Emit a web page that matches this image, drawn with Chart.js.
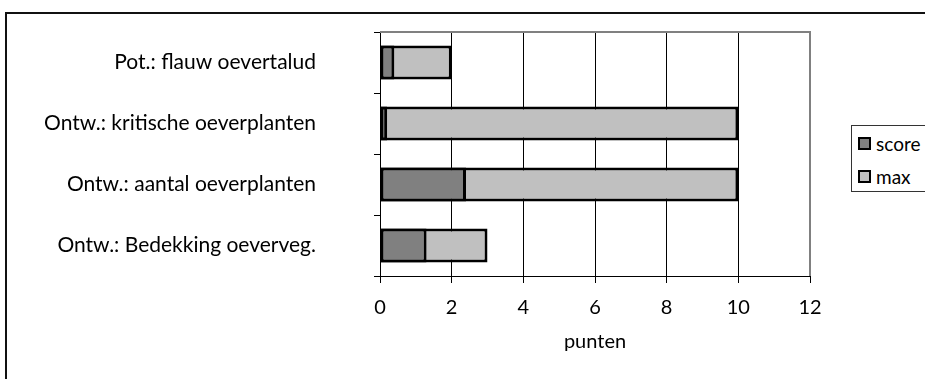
<!DOCTYPE html>
<html>
<head>
<meta charset="utf-8">
<script src="https://cdn.jsdelivr.net/npm/chart.js@4"></script>
<style>
  html, body { margin: 0; padding: 0; background: #fff; }
  #wrap { position: relative; width: 925px; height: 379px; overflow: hidden; }
  #frame { position: absolute; left: 5px; top: 12px; width: 1000px; height: 500px;
           border-left: 2px solid #111; border-top: 2px solid #111; box-sizing: border-box; }
  canvas { position: absolute; left: 0; top: 0; }
  #legend { position: absolute; left: 851px; top: 125px; width: 120px; height: 67px;
            border: 1px solid #333; box-sizing: border-box; background: #fff;
            font-family: Lato, "Open Sans", sans-serif; font-size: 19px; color: #000; }
  .item { position: absolute; left: 6px; height: 20px; display: flex; align-items: center; }
  .sw { width: 13px; height: 13px; border: 2px solid #000; box-sizing: border-box; margin-right: 5px; }
</style>
</head>
<body>
<div id="wrap">
  <div id="frame"></div>
  <canvas id="c" width="925" height="379"></canvas>
  <div id="legend"></div>
</div>
<script>
// Categories (top to bottom) and the two series
const categories = [
  'Pot.: flauw oevertalud',
  'Ontw.: kritische oeverplanten',
  'Ontw.: aantal oeverplanten',
  'Ontw.: Bedekking oeverveg.'
];
const scoreValues = [0.4, 0.2, 2.4, 1.3];
const maxValues = [2, 10, 10, 3];
const xTicks = [0, 2, 4, 6, 8, 10, 12];
const seriesNames = ['score', 'max'];
const seriesColors = ['#808080', '#C0C0C0'];

const FONT = 'Lato, "Open Sans", sans-serif';

// Grey top and right edges of the plot area
const plotEdges = {
  id: 'plotEdges',
  afterDatasetsDraw(chart) {
    const { ctx, chartArea: a } = chart;
    ctx.save();
    ctx.strokeStyle = '#808080';
    ctx.lineWidth = 2;
    ctx.beginPath();
    ctx.moveTo(a.left, a.top);
    ctx.lineTo(a.right, a.top);
    ctx.lineTo(a.right, a.bottom);
    ctx.stroke();
    ctx.restore();
  }
};

const barStyle = { borderColor: '#000', borderWidth: 3, borderSkipped: false,
                   grouped: false, barPercentage: 0.56, categoryPercentage: 1 };

const chart = new Chart(document.getElementById('c'), {
  type: 'bar',
  data: {
    labels: categories,
    datasets: [
      Object.assign({ label: seriesNames[0], data: scoreValues, backgroundColor: seriesColors[0] }, barStyle),
      Object.assign({ label: seriesNames[1], data: maxValues, backgroundColor: seriesColors[1] }, barStyle)
    ]
  },
  options: {
    indexAxis: 'y',
    responsive: false,
    animation: false,
    layout: { padding: { top: 32, right: 115, left: 0, bottom: 21 } },
    plugins: { legend: { display: false }, tooltip: { enabled: false } },
    scales: {
      x: {
        min: 0, max: 12,
        afterBuildTicks(scale) { scale.ticks = xTicks.map(v => ({ value: v })); },
        afterFit(scale) { scale.height = 82; scale.paddingLeft = 0; scale.paddingRight = 0; },
        border: { color: '#000', width: 1 },
        grid: {
          color: c => (c.tick && c.tick.value === 12) ? 'rgba(0,0,0,0)' : '#000',
          tickColor: '#000',
          tickLength: 7,
          lineWidth: 1
        },
        ticks: { color: '#000', font: { family: FONT, size: 20 }, padding: 13, maxRotation: 0 },
        title: { display: true, text: 'punten', color: '#000', font: { family: FONT, size: 20 }, padding: { top: 8 } }
      },
      y: {
        afterFit(scale) { scale.width = 380; scale.paddingTop = 0; scale.paddingBottom = 0; },
        border: { color: '#000', width: 1 },
        grid: { drawOnChartArea: false, drawTicks: true, tickLength: 6, tickColor: '#000', offset: true },
        ticks: { color: '#000', font: { family: FONT, size: 21 }, padding: 58, crossAlign: 'near' }
      }
    }
  },
  plugins: [plotEdges]
});

// Legend built from the datasets
const legend = document.getElementById('legend');
chart.data.datasets.forEach((ds, i) => {
  const item = document.createElement('div');
  item.className = 'item';
  item.style.top = (7 + i * 33) + 'px';
  const sw = document.createElement('span');
  sw.className = 'sw';
  sw.style.background = ds.backgroundColor;
  const tx = document.createElement('span');
  tx.textContent = ds.label;
  item.appendChild(sw);
  item.appendChild(tx);
  legend.appendChild(item);
});
</script>
</body>
</html>
